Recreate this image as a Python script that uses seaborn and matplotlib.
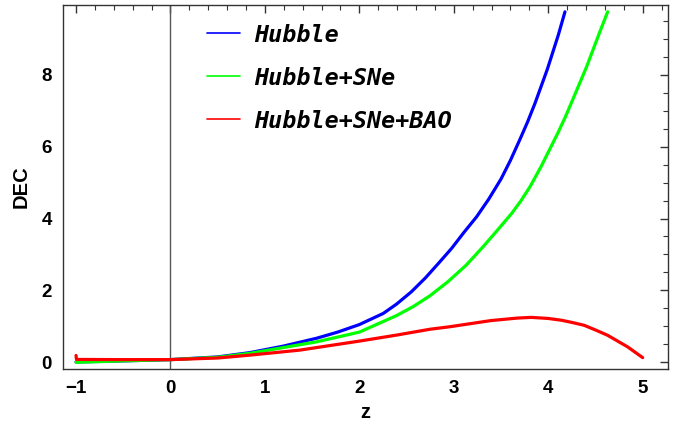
import numpy as np
import pandas as pd
import matplotlib
matplotlib.use("Agg")
import matplotlib.pyplot as plt
from matplotlib.lines import Line2D
from matplotlib.ticker import MultipleLocator
import seaborn as sns

# ---- data ----
z_hubble = [-1.0, -0.5, 0.0, 0.5, 0.842, 1.194, 1.548, 1.77, 2.0, 2.253, 2.394, 2.55, 2.7, 2.84,
            2.977, 3.1, 3.242, 3.37, 3.5, 3.6, 3.7, 3.78, 3.859, 3.99, 4.106, 4.177]
dec_hubble = [0.01, 0.04, 0.075, 0.15, 0.27, 0.45, 0.67, 0.84, 1.05, 1.36, 1.62, 1.96, 2.35, 2.76,
              3.17, 3.59, 4.05, 4.54, 5.1, 5.62, 6.2, 6.68, 7.2, 8.15, 9.1, 9.75]

z_sne = [-1.0, -0.5, 0.0, 0.5, 0.842, 1.194, 1.548, 2.0, 2.394, 2.57, 2.747, 2.941, 3.13, 3.312,
         3.46, 3.612, 3.71, 3.806, 3.923, 4.10, 4.18, 4.258, 4.406, 4.54, 4.629]
dec_sne = [0.0, 0.04, 0.075, 0.14, 0.25, 0.41, 0.57, 0.84, 1.30, 1.55, 1.85, 2.25, 2.70, 3.22,
           3.67, 4.14, 4.49, 4.88, 5.44, 6.37, 6.82, 7.30, 8.22, 9.15, 9.75]

z_bao = [-1.0, -0.995, -0.5, 0.0, 0.5, 0.842, 1.371, 2.0, 2.4, 2.747, 2.959, 3.39, 3.67, 3.82,
         4.0, 4.14, 4.25, 4.38, 4.5, 4.63, 4.84, 5.0]
dec_bao = [0.19, 0.08, 0.075, 0.075, 0.12, 0.20, 0.34, 0.59, 0.76, 0.92, 0.99, 1.16, 1.23, 1.25,
           1.22, 1.17, 1.11, 1.03, 0.90, 0.75, 0.43, 0.13]

labels = ["Hubble", "Hubble+SNe", "Hubble+SNe+BAO"]
colors = ["#0000ff", "#00ff00", "#ff0000"]

x_ticks = [-1, 0, 1, 2, 3, 4, 5]
y_ticks = [0, 2, 4, 6, 8]

df = pd.concat([
    pd.DataFrame({"z": z_hubble, "DEC": dec_hubble, "model": labels[0]}),
    pd.DataFrame({"z": z_sne, "DEC": dec_sne, "model": labels[1]}),
    pd.DataFrame({"z": z_bao, "DEC": dec_bao, "model": labels[2]}),
], ignore_index=True)

sns.set_style("white")
plt.rcParams["font.family"] = ["Liberation Sans", "DejaVu Sans"]
plt.rcParams["text.color"] = "black"
plt.rcParams["axes.labelcolor"] = "black"
plt.rcParams["xtick.color"] = "black"
plt.rcParams["ytick.color"] = "black"

fig = plt.figure(figsize=(6.83, 4.36), dpi=100)
ax = fig.add_axes([63 / 683, 1 - 369 / 436, (668 - 63) / 683, (369 - 5) / 436])

ax.axvline(0, color="#555555", lw=1.0, zorder=1)

sns.lineplot(data=df, x="z", y="DEC", hue="model", palette=dict(zip(labels, colors)),
             estimator=None, sort=False, lw=2.3, legend=False, ax=ax, zorder=3)

ax.set_xlim(-1.138, 5.268)
ax.set_ylim(-0.186, 9.94)
ax.set_xticks(x_ticks)
ax.set_yticks(y_ticks)
ax.xaxis.set_minor_locator(MultipleLocator(0.2))
ax.yaxis.set_minor_locator(MultipleLocator(0.5))
ax.tick_params(which="both", direction="in", top=True, right=True, color="#333333",
               labelcolor="black")
ax.tick_params(which="major", length=6, width=1.0, labelsize=13.5, pad=8)
ax.tick_params(which="minor", length=3.5, width=0.8)
for lab in ax.get_xticklabels() + ax.get_yticklabels():
    lab.set_fontweight("bold")
for s in ax.spines.values():
    s.set_color("#333333")
    s.set_linewidth(1.0)

ax.set_xlabel("z", fontsize=14.5, fontweight="bold", labelpad=4, color="black")
ax.set_ylabel("DEC", fontsize=14.5, fontweight="bold", labelpad=8, color="black")

handles = [Line2D([0], [0], color=c, lw=1.2) for c in colors]
leg = fig.legend(handles, labels, loc="upper left", bbox_to_anchor=(207 / 683, 1 - 23.5 / 436),
                 frameon=False, borderpad=0, borderaxespad=0, handlelength=1.42,
                 handletextpad=0.6, labelspacing=0.86,
                 prop={"family": "DejaVu Sans Mono", "style": "oblique", "weight": "bold", "size": 16.8})
for t in leg.get_texts():
    t.set_color("black")

fig.savefig("out.png", dpi=100)
